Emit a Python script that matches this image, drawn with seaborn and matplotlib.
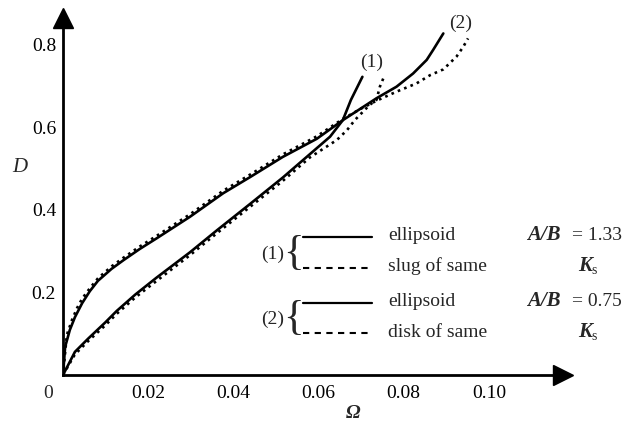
"""
D against Omega for ellipsoids and their equivalent slug / disk
Saves the output as out.png
"""

import matplotlib.pyplot as plt
import seaborn as sns
import matplotlib.lines as mlines

# ------------------------------#
# Data
# (1) ellipsoid A/B = 1.33 and slug of same K_s
om_ell1 = [0, 0.0028, 0.0059, 0.0099, 0.0126, 0.017, 0.022, 0.0298, 0.0361,
           0.0439, 0.0516, 0.058, 0.0627, 0.0657, 0.0676, 0.0703]
d_ell1 = [0, 0.056, 0.088, 0.127, 0.155, 0.195, 0.236, 0.297, 0.350,
          0.414, 0.478, 0.535, 0.577, 0.617, 0.666, 0.722]

om_slug = [0, 0.0028, 0.0059, 0.0099, 0.0126, 0.017, 0.022, 0.0298, 0.0361,
           0.0439, 0.0516, 0.058, 0.0643, 0.0667, 0.0685, 0.072, 0.0736,
           0.0744, 0.0752]
d_slug = [0, 0.05, 0.082, 0.12, 0.148, 0.188, 0.228, 0.29, 0.343,
          0.407, 0.47, 0.527, 0.569, 0.593, 0.617, 0.654, 0.666,
          0.698, 0.718]

# (2) ellipsoid A/B = 0.75 and disk of same K_s
om_ell2 = [0, 0.0005, 0.0016, 0.0028, 0.0045, 0.0063, 0.0082, 0.0114, 0.0142,
           0.018, 0.022, 0.0298, 0.0376, 0.0439, 0.0516, 0.0596, 0.0657,
           0.0736, 0.0783, 0.0822, 0.0854, 0.0869, 0.0893]
d_ell2 = [0, 0.068, 0.109, 0.14, 0.174, 0.203, 0.228, 0.257, 0.278,
          0.305, 0.331, 0.383, 0.44, 0.479, 0.528, 0.572, 0.617,
          0.67, 0.698, 0.73, 0.763, 0.787, 0.827]

om_disk = [0, 0.0009, 0.0021, 0.0033, 0.0045, 0.0063, 0.0082, 0.0114, 0.0142,
           0.018, 0.022, 0.0298, 0.0376, 0.0439, 0.0516, 0.0596, 0.0657,
           0.070, 0.0736, 0.0783, 0.083, 0.0862, 0.0893, 0.0924, 0.094, 0.0951]
d_disk = [0, 0.097, 0.133, 0.162, 0.185, 0.21, 0.234, 0.263, 0.284,
          0.311, 0.337, 0.389, 0.446, 0.485, 0.534, 0.578, 0.62,
          0.645, 0.664, 0.686, 0.706, 0.726, 0.74, 0.771, 0.795, 0.815]

x_ticks = [0.02, 0.04, 0.06, 0.08, 0.10]
x_labels = ["0.02", "0.04", "0.06", "0.08", "0.10"]
y_ticks = [0.2, 0.4, 0.6, 0.8]
y_labels = ["0.2", "0.4", "0.6", "0.8"]

# ------------------------------#
# Style
sns.set_style("white")
plt.rcParams["font.family"] = ["Liberation Serif", "DejaVu Serif"]

W, H = 635, 426
fig = plt.figure(figsize=(W / 100, H / 100), dpi=100)
ax = fig.add_axes([63 / W, (H - 375) / H, 500 / W, 357 / H])


# figure pixel (from top left) -> figure fraction
def fx(px):
    return px / W


def fy(py):
    return 1 - py / H


solid = dict(color="black", lw=1.9, solid_capstyle="round",
             solid_joinstyle="round")
dotted = dict(color="black", lw=1.9, linestyle=(0, (1, 1.6)))

sns.lineplot(x=om_ell1, y=d_ell1, sort=False, estimator=None, ax=ax, **solid)
sns.lineplot(x=om_slug, y=d_slug, sort=False, estimator=None, ax=ax, **dotted)
sns.lineplot(x=om_ell2, y=d_ell2, sort=False, estimator=None, ax=ax, **solid)
sns.lineplot(x=om_disk, y=d_disk, sort=False, estimator=None, ax=ax, **dotted)

ax.set_xlim(0, 0.1174)
ax.set_ylim(0, 0.8644)

# Axes with arrow heads
for side in ["top", "right"]:
    ax.spines[side].set_visible(False)
for side in ["left", "bottom"]:
    ax.spines[side].set_linewidth(2.0)
    ax.spines[side].set_color("black")
ax.plot([1], [0], marker=">", ms=15, color="black",
        transform=ax.get_yaxis_transform(), clip_on=False)
ax.plot([0], [1], marker="^", ms=15, color="black",
        transform=ax.get_xaxis_transform(), clip_on=False)

ax.set_xticks(x_ticks, x_labels)
ax.set_yticks(y_ticks, y_labels)
ax.tick_params(axis="both", direction="in", length=5, width=1.5,
               labelsize=14, colors="black")
ax.tick_params(axis="x", pad=7)
ax.tick_params(axis="y", pad=5)
ax.annotate("0", xy=(0, 0), xytext=(-15, -18), textcoords="offset pixels",
            ha="center", va="center", fontsize=14)

fig.text(fx(20), fy(168), "D", fontsize=15, style="italic",
         ha="center", va="center")
fig.text(fx(353), fy(413), "Ω", fontsize=14, style="italic", weight="bold",
         ha="center", va="center")

# curve labels
ax.annotate("(1)", xy=(om_ell1[-1], d_ell1[-1]), xytext=(9, 14),
            textcoords="offset pixels", ha="center", va="center", fontsize=14)
ax.annotate("(2)", xy=(om_ell2[-1], d_ell2[-1]), xytext=(17, 10),
            textcoords="offset pixels", ha="center", va="center", fontsize=14)

# ------------------------------#
# Hand made legend
rows = [
    (240, 237, "-", "ellipsoid", "A/B", "= 1.33"),
    (271, 268, "--", "slug of same", "K", ""),
    (306, 303, "-", "ellipsoid", "A/B", "= 0.75"),
    (337, 333, "--", "disk of same", "K", ""),
]
for base, ly, ls, name, sym, val in rows:
    if ls == "-":
        line = mlines.Line2D([fx(303), fx(372)], [fy(ly), fy(ly)],
                             color="black", lw=1.6, transform=fig.transFigure)
    else:
        line = mlines.Line2D([fx(303), fx(372)], [fy(ly), fy(ly)],
                             color="black", lw=1.5, linestyle=(0, (3, 2.6)),
                             transform=fig.transFigure)
    fig.add_artist(line)
    fig.text(fx(388), fy(base), name, fontsize=14, va="baseline")
    if val:
        fig.text(fx(527), fy(base), sym, fontsize=15, style="italic",
                 weight="bold", va="baseline")
        fig.text(fx(572), fy(base), val, fontsize=14, va="baseline")
    else:
        fig.text(fx(578), fy(base), sym, fontsize=15, style="italic",
                 weight="bold", va="baseline")
        fig.text(fx(591), fy(base + 3), "s", fontsize=10, va="baseline")

for py, lab in [(254, "(1)"), (319, "(2)")]:
    fig.text(fx(273), fy(py), lab, fontsize=14, ha="center", va="center")
    fig.text(fx(293), fy(py), "{", fontsize=31, ha="center", va="center",
             weight="light")

fig.savefig("out.png", dpi=100)
